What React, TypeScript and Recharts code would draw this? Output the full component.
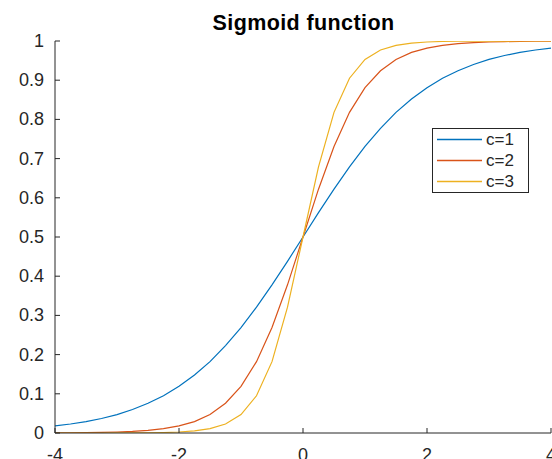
import React from "react";
import { LineChart, Line, XAxis, YAxis } from "recharts";

const xs = [-4, -3.75, -3.5, -3.25, -3, -2.75, -2.5, -2.25, -2, -1.75, -1.5, -1.25, -1, -0.75, -0.5, -0.25, 0,
  0.25, 0.5, 0.75, 1, 1.25, 1.5, 1.75, 2, 2.25, 2.5, 2.75, 3, 3.25, 3.5, 3.75, 4];

const c1 = [0.018, 0.023, 0.029, 0.037, 0.047, 0.06, 0.076, 0.095, 0.119, 0.148, 0.182, 0.223, 0.269, 0.321, 0.378, 0.438, 0.5,
  0.562, 0.622, 0.679, 0.731, 0.777, 0.818, 0.852, 0.881, 0.905, 0.924, 0.94, 0.953, 0.963, 0.971, 0.977, 0.982];

const c2 = [0.0003, 0.0006, 0.0009, 0.0015, 0.0025, 0.0041, 0.0067, 0.011, 0.018, 0.029, 0.047, 0.076, 0.119, 0.182, 0.269, 0.378, 0.5,
  0.622, 0.731, 0.818, 0.881, 0.924, 0.953, 0.971, 0.982, 0.989, 0.9933, 0.9959, 0.9975, 0.9985, 0.9991, 0.9994, 0.9997];

const c3 = [0.00001, 0.00001, 0.00003, 0.00006, 0.00012, 0.00026, 0.00055, 0.0012, 0.0025, 0.0052, 0.011, 0.023, 0.047, 0.095, 0.182, 0.321, 0.5,
  0.679, 0.818, 0.905, 0.953, 0.977, 0.989, 0.9948, 0.9975, 0.9988, 0.9995, 0.9997, 0.9999, 0.9999, 0.99997, 0.99999, 0.99999];

const xTicks = [-4, -2, 0, 2, 4];
const yTicks = [0, 0.1, 0.2, 0.3, 0.4, 0.5, 0.6, 0.7, 0.8, 0.9, 1];
const seriesNames = ["c=1", "c=2", "c=3"];
const colors = ["#0072BD", "#D95319", "#EDB120"];
const title = "Sigmoid function";

const data = xs.map((x, i) => ({ x, c1: c1[i], c2: c2[i], c3: c3[i] }));

const FONT = "'Liberation Sans', Arial, Helvetica, sans-serif";
const AX = "#262626";

const BottomTick = (props: any) => {
  const { x, y, payload } = props;
  return (
    <g>
      <line x1={x} x2={x} y1={y} y2={y - 5} stroke={AX} strokeWidth={1} />
      <text x={x} y={y + 28} textAnchor="middle" fontSize={18} fontFamily={FONT} fill={AX}>
        {String(payload.value)}
      </text>
    </g>
  );
};

const TopTick = (props: any) => {
  const { x, y } = props;
  return <line x1={x} x2={x} y1={y} y2={y + 5} stroke={AX} strokeWidth={1} />;
};

const LeftTick = (props: any) => {
  const { x, y, payload } = props;
  const v = Math.round(payload.value * 10) / 10;
  return (
    <g>
      <line x1={x} x2={x + 5} y1={y} y2={y} stroke={AX} strokeWidth={1} />
      <text x={44} y={y} textAnchor="end" dominantBaseline="central" fontSize={18} fontFamily={FONT} fill={AX}>
        {String(v)}
      </text>
    </g>
  );
};

const RightTick = (props: any) => {
  const { x, y } = props;
  return <line x1={x - 5} x2={x} y1={y} y2={y} stroke={AX} strokeWidth={1} />;
};

const LEG_X = 432;
const LEG_Y = 128;

export default function App() {
  return (
    <div style={{ position: "absolute", left: 0, top: 0, width: 552, height: 459, background: "#fff" }}>
      <LineChart width={552} height={459} data={data} margin={{ top: 41, right: 1, bottom: 0, left: 0 }}>
        <XAxis
          dataKey="x"
          type="number"
          domain={[-4, 4]}
          ticks={xTicks}
          interval={0}
          height={26}
          tickSize={0}
          tickMargin={0}
          tick={<BottomTick />}
          axisLine={{ stroke: AX, strokeWidth: 1 }}
          tickLine={false}
          allowDataOverflow
        />
        <XAxis
          xAxisId="top"
          orientation="top"
          dataKey="x"
          type="number"
          domain={[-4, 4]}
          ticks={xTicks}
          interval={0}
          height={0}
          tickSize={0}
          tickMargin={0}
          tick={<TopTick />}
          axisLine={{ stroke: AX, strokeWidth: 1 }}
          tickLine={false}
          allowDataOverflow
        />
        <YAxis
          type="number"
          domain={[0, 1]}
          ticks={yTicks}
          interval={0}
          width={55}
          tickSize={0}
          tickMargin={0}
          tick={<LeftTick />}
          axisLine={{ stroke: AX, strokeWidth: 1 }}
          tickLine={false}
          allowDataOverflow
        />
        <YAxis
          yAxisId="right"
          orientation="right"
          type="number"
          domain={[0, 1]}
          ticks={yTicks}
          interval={0}
          width={0}
          tickSize={0}
          tickMargin={0}
          tick={<RightTick />}
          axisLine={{ stroke: AX, strokeWidth: 1 }}
          tickLine={false}
          allowDataOverflow
        />
        <Line dataKey="c1" type="linear" stroke={colors[0]} strokeWidth={1.2} dot={false} isAnimationActive={false} />
        <Line dataKey="c2" type="linear" stroke={colors[1]} strokeWidth={1.2} dot={false} isAnimationActive={false} />
        <Line dataKey="c3" type="linear" stroke={colors[2]} strokeWidth={1.2} dot={false} isAnimationActive={false} />
        <text x={303.5} y={30} textAnchor="middle" fontSize={21.5} fontWeight="bold" fontFamily={FONT} fill="#000" letterSpacing={0.4}>
          {title}
        </text>
        <g>
          <rect x={LEG_X + 0.5} y={LEG_Y + 0.5} width={96} height={64} fill="#fff" stroke={AX} strokeWidth={1} />
          {seriesNames.map((n, i) => (
            <g key={n}>
              <line
                x1={LEG_X + 5}
                x2={LEG_X + 50}
                y1={LEG_Y + 11.5 + i * 21}
                y2={LEG_Y + 11.5 + i * 21}
                stroke={colors[i]}
                strokeWidth={1.3}
              />
              <text
                x={LEG_X + 54}
                y={LEG_Y + 11.5 + i * 21}
                dominantBaseline="central"
                fontSize={17}
                fontFamily={FONT}
                fill={AX}
              >
                {n}
              </text>
            </g>
          ))}
        </g>
      </LineChart>
    </div>
  );
}
